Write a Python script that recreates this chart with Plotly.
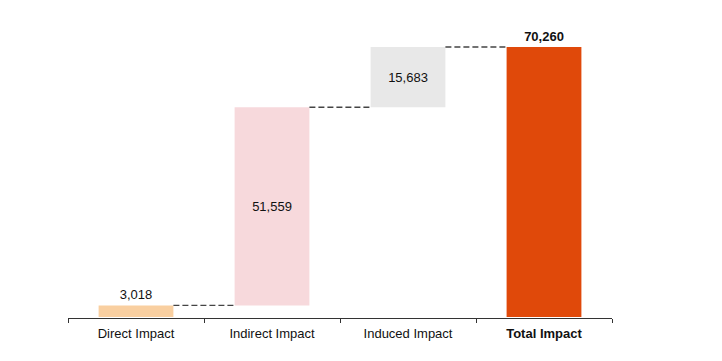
import plotly.graph_objects as go

categories = ["Direct Impact", "Indirect Impact", "Induced Impact", "Total Impact"]
tick_labels = ["Direct Impact", "Indirect Impact", "Induced Impact", "<b>Total Impact</b>"]
values = [3018, 51559, 15683, 70260]
is_total = [False, False, False, True]
colors = ["#F9CFA0", "#F7D9DC", "#E8E8E8", "#E0490A"]

bar_w = 0.55
xs = list(range(len(categories)))

# bases for waterfall
bases = []
cum = 0
for v, t in zip(values, is_total):
    if t:
        bases.append(0)
    else:
        bases.append(cum)
        cum += v
tops = [b + v for b, v in zip(bases, values)]

fig = go.Figure()

text_pos = ["outside", "inside", "inside", "outside"]
texts = [f"{v:,}" if not t else f"<b>{v:,}</b>" for v, t in zip(values, is_total)]

fig.add_trace(go.Bar(
    x=xs, y=values, base=bases, width=bar_w,
    marker=dict(color=colors, line=dict(width=0)),
    text=texts, textposition=text_pos,
    insidetextanchor="middle",
    textfont=dict(family="Liberation Sans, Arial", size=13, color="#111111"),
    outsidetextfont=dict(family="Liberation Sans, Arial", size=13, color="#111111"),
    insidetextfont=dict(family="Liberation Sans, Arial", size=13, color="#111111"),
    cliponaxis=False, showlegend=False, hoverinfo="skip",
))

# connectors
for i in range(len(values) - 1):
    lvl = tops[i]
    fig.add_trace(go.Scatter(
        x=[xs[i] + bar_w / 2, xs[i + 1] - bar_w / 2], y=[lvl, lvl],
        mode="lines", line=dict(color="#444444", width=1.4, dash="6px,3px"),
        showlegend=False, hoverinfo="skip",
    ))

fig.update_layout(
    width=722, height=361,
    margin=dict(l=60, r=118, t=12, b=51),
    paper_bgcolor="white", plot_bgcolor="white",
    font=dict(family="Liberation Sans, Arial", size=13, color="#111111"),
    xaxis=dict(
        range=[-0.5, 3.5], tickvals=xs, ticktext=tick_labels,
        ticks="", showgrid=False, zeroline=False,
        showline=True, linecolor="#333333", linewidth=1,
        tickfont=dict(size=13, color="#111111"),
        ticklabelstandoff=3,
        minor=dict(tickvals=[-0.5, 0.5, 1.5, 2.5, 3.5], ticks="outside",
                   ticklen=4, tickcolor="#333333", tickwidth=1, showgrid=False),
    ),
    yaxis=dict(range=[-260, 77280], visible=False, showgrid=False, zeroline=False),
)

fig.write_html("out.html")
